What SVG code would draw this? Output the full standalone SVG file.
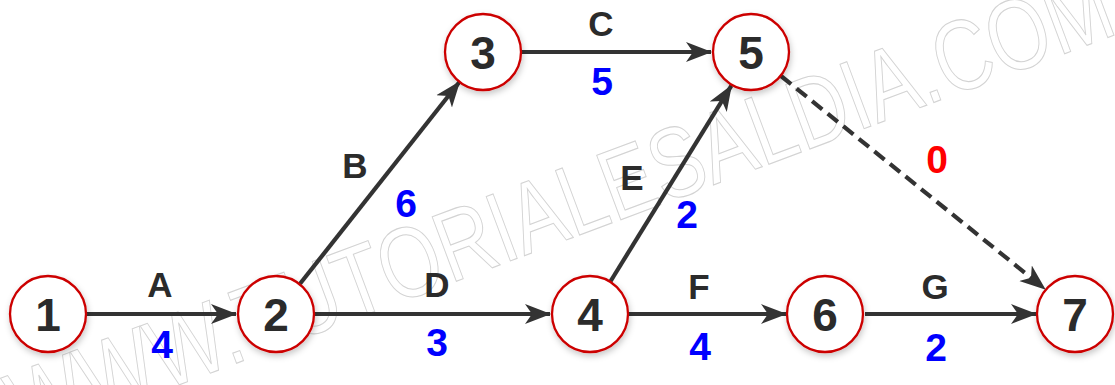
<svg xmlns="http://www.w3.org/2000/svg" width="1115" height="385" viewBox="0 0 1115 385">
<style>
.node circle{fill:#fff;stroke:#cc0000;stroke-width:2.3;filter:url(#sh)}
.node text{font-family:"Liberation Sans",Arial,sans-serif;font-size:46px;font-weight:bold;fill:#2b2b2b;text-anchor:middle}
.edge{stroke:#333;stroke-width:4.2;fill:none;marker-end:url(#ah)}
.dash{stroke-dasharray:13 7}
.lbl{font-family:"Liberation Sans",Arial,sans-serif;font-size:35px;font-weight:bold;fill:#2b2b2b;text-anchor:middle}
.w{font-family:"Liberation Sans",Arial,sans-serif;font-size:39px;font-weight:bold;fill:#0000ff;text-anchor:middle}
.wr{fill:#ff0000}
.wm{font-family:"Liberation Sans",Arial,sans-serif;font-size:100px;fill:none;stroke:#d3d3d3;stroke-width:1.1;text-anchor:middle}
</style>
<defs>
<filter id="sh" x="-30%" y="-30%" width="160%" height="160%">
<feDropShadow dx="1" dy="3" stdDeviation="3" flood-color="#000" flood-opacity="0.22"/>
</filter>
<marker id="ah" markerUnits="userSpaceOnUse" markerWidth="26" markerHeight="22" viewBox="0 0 26 22" refX="25" refY="11" orient="auto">
<path d="M0,1 L26,11 L0,21 L7,11 z" fill="#333"/>
</marker>
</defs>
<rect width="1115" height="385" fill="#fff"/>
<text class="wm" x="560" y="240" transform="rotate(-20.5 560 205)" textLength="1170" lengthAdjust="spacingAndGlyphs">WWW.TUTORIALESALDIA.COM</text>
<g id="connectors">
<line class="edge" x1="87" y1="314" x2="236" y2="314"/>
<line class="edge" x1="300" y1="283.8" x2="459.6" y2="81.8"/>
<line class="edge" x1="522" y1="52" x2="711" y2="52"/>
<line class="edge" x1="315" y1="314" x2="550" y2="314"/>
<line class="edge" x1="610.4" y1="281.5" x2="731.4" y2="85.6"/>
<line class="edge" x1="629" y1="314" x2="786" y2="314"/>
<line class="edge" x1="865" y1="314" x2="1036" y2="314"/>
<line class="edge dash" x1="781" y1="76" x2="1045" y2="289"/>
</g>
<g id="labels">
<text class="lbl" x="160" y="297">A</text><text class="w" x="162" y="358">4</text>
<text class="lbl" x="355" y="178">B</text><text class="w" x="406" y="217">6</text>
<text class="lbl" x="601" y="36">C</text><text class="w" x="602" y="95">5</text>
<text class="lbl" x="437" y="297">D</text><text class="w" x="437" y="356">3</text>
<text class="lbl" x="632" y="190">E</text><text class="w" x="687" y="228">2</text>
<text class="lbl" x="699" y="299">F</text><text class="w" x="700" y="360">4</text>
<text class="w wr" x="937" y="173">0</text>
<text class="lbl" x="935" y="299">G</text><text class="w" x="936" y="361">2</text>
</g>
<g id="n1" class="node"><circle cx="48" cy="314" r="38"/><text x="48" y="331">1</text></g>
<g id="n2" class="node"><circle cx="276" cy="314" r="38"/><text x="276" y="331">2</text></g>
<g id="n3" class="node"><circle cx="483" cy="52" r="38"/><text x="483" y="69">3</text></g>
<g id="n4" class="node"><circle cx="590" cy="314" r="38"/><text x="590" y="331">4</text></g>
<g id="n5" class="node"><circle cx="751" cy="52" r="38"/><text x="751" y="69">5</text></g>
<g id="n6" class="node"><circle cx="825" cy="314" r="38"/><text x="825" y="331">6</text></g>
<g id="n7" class="node"><circle cx="1075" cy="314" r="38"/><text x="1075" y="331">7</text></g>
</svg>
